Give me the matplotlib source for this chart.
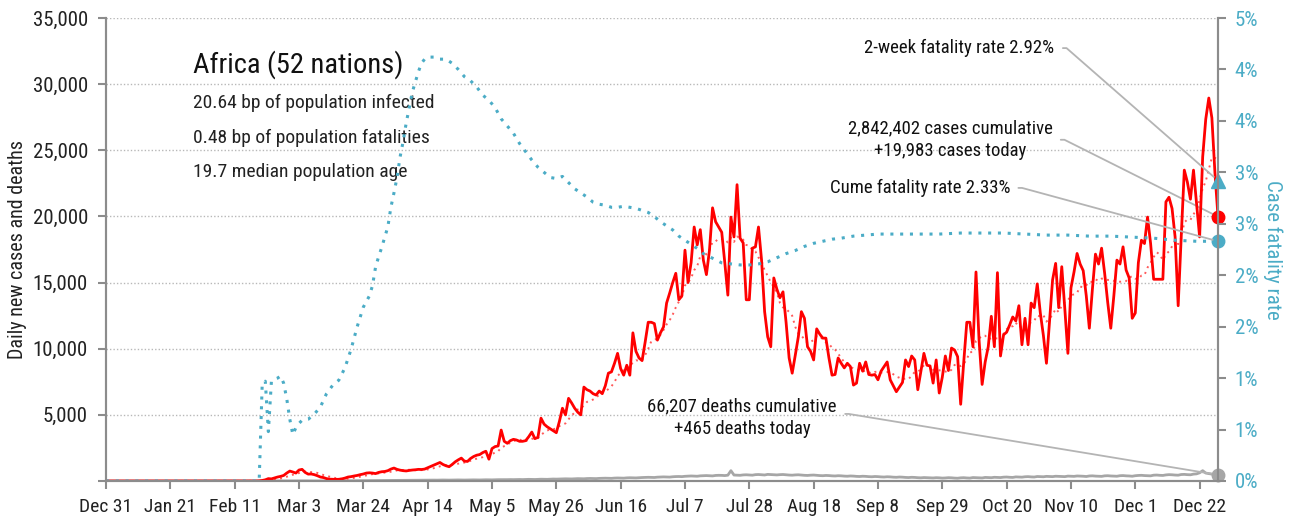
import matplotlib
matplotlib.use("Agg")
import matplotlib.pyplot as plt
import matplotlib.ticker as mticker
import numpy as np
import pandas as pd

plt.rcParams['font.family'] = ['Roboto Condensed', 'DejaVu Sans']
plt.rcParams['font.stretch'] = 'condensed'

# daily new cases, Dec 31 2019 .. Dec 28 2020
cases = (
    [0] * 45 +
    [1, 0, 0, 0, 0, 10, 40, 90, 180, 160, 230, 300, 350, 420, 600, 750, 680, 600, 830] +
    [880, 650, 520, 530, 480, 400, 300, 260, 180, 140, 130, 120, 130, 160] +
    [220, 300, 330, 380, 420, 480, 530, 600, 620, 600, 560, 650, 700, 720] +
    [780, 900, 980, 880, 820, 780, 760, 800, 830, 850, 880, 870, 900, 1000] +
    [1100, 1200, 1300, 1400, 1250, 1150, 1080, 1250, 1450, 1600, 1730, 1500, 1480, 1700] +
    [1850, 1950, 2000, 2150, 2250, 1650, 2450, 2600, 2650, 3850, 3000, 2850, 3050, 3150] +
    [3100, 3000, 3000, 3050, 3350, 3700, 3200, 3300, 4750, 4300, 4100, 3950, 3800, 3650] +
    [4500, 5500, 5000, 6250, 5900, 5500, 5200, 5000, 7100, 6900, 6800, 6600, 6500, 6800] +
    [6600, 7200, 8150, 8250, 8900, 9650, 8500, 8000, 8750, 8000, 11200, 9800, 9300, 9100] +
    [10500, 12000, 12000, 11900, 10650, 11200, 11650, 13450, 14200, 15000, 15700, 13700, 14000, 17450] +
    [15000, 16500, 19200, 17850, 19000, 16700, 15600, 17450, 20650, 19600, 19200, 18800, 16500, 14050] +
    [19950, 18450, 22400, 18350, 18000, 13700, 13700, 17600, 17700, 19200, 16700, 12800, 10900, 10150] +
    [15350, 14500, 13850, 14300, 12000, 9300, 8150, 9500, 10900, 12800, 12300, 10150, 9800, 9150] +
    [11500, 11100, 10800, 10800, 9300, 8000, 8050, 9300, 8900, 8550, 8900, 8650, 7250, 7400] +
    [8900, 8300, 9000, 8050, 8000, 8050, 7650, 8300, 8650, 9000, 7650, 7200, 6750, 7100] +
    [7450, 9150, 8650, 9450, 9150, 6900, 8300, 9650, 8750, 8700, 7400, 9150, 6650, 7850] +
    [9450, 8350, 10050, 9900, 9400, 5800, 9000, 12000, 12000, 10150, 15800, 10650, 7300, 9000] +
    [10150, 12450, 10150, 15750, 9450, 11050, 11250, 11800, 12400, 12100, 13250, 10300, 12300, 10300] +
    [13450, 13100, 14900, 12700, 11000, 8900, 12000, 15200, 16450, 13100, 16200, 13000, 9650, 14600] +
    [15800, 17200, 16400, 15900, 14000, 11550, 14500, 17150, 16400, 17600, 15700, 13500, 11550, 14000] +
    [16700, 16400, 17700, 15950, 15350, 12300, 12700, 16500, 18200, 17950, 19950, 17950, 15250, 15250] +
    [15250, 15250, 21100, 21450, 20600, 18450, 13250, 18500, 23500, 22600, 21300, 23500, 20950, 18450] +
    [24500, 27350, 28950, 27450, 23300, 19983]
)

# daily new deaths
deaths = (
    [0] * 51 +
    [2, 0, 1, 3, 2, 4, 5, 3, 6, 8, 7, 9, 10] +
    [8, 10, 6, 5, 4, 3, 3, 4, 5, 6, 8, 9, 10, 12] +
    [14, 16, 18, 20, 22, 25, 28, 30, 33, 36, 38, 40, 44, 48] +
    [50, 52, 55, 58, 60, 58, 56, 60, 62, 65, 60, 58, 62, 66] +
    [70, 68, 65, 72, 75, 70, 68, 74, 78, 80, 76, 72, 78, 82] +
    [85, 80, 78, 88, 92, 90, 86, 95, 100, 98, 94, 102, 108, 104] +
    [110, 115, 108, 120, 125, 118, 114, 128, 135, 130, 126, 140, 148, 142] +
    [150, 158, 165, 160, 155, 170, 178, 175, 168, 185, 192, 188, 180, 198] +
    [205, 212, 208, 200, 220, 228, 225, 215, 236, 245, 240, 232, 250, 262] +
    [270, 280, 275, 265, 290, 300, 310, 305, 295, 320, 335, 340, 330, 355] +
    [370, 380, 372, 360, 390, 400, 410, 398, 385, 420, 430, 425, 410, 440] +
    [780, 450, 440, 430, 460, 470, 455, 440, 480, 490, 470, 455, 500, 485] +
    [470, 460, 480, 490, 470, 450, 440, 460, 470, 450, 430, 420, 440, 450] +
    [430, 410, 400, 420, 410, 390, 380, 400, 390, 370, 360, 380, 370, 350] +
    [340, 360, 350, 330, 320, 340, 330, 310, 300, 320, 310, 290, 280, 300] +
    [290, 270, 260, 280, 270, 250, 240, 260, 250, 240, 230, 250, 240, 220] +
    [230, 250, 240, 220, 210, 240, 250, 230, 220, 260, 250, 240, 230, 270] +
    [260, 250, 280, 270, 260, 290, 300, 280, 270, 310, 300, 290, 320, 330] +
    [310, 300, 340, 330, 320, 350, 340, 330, 360, 350, 340, 330, 370, 360] +
    [350, 380, 370, 360, 340, 380, 390, 370, 360, 350, 390, 400, 380, 370] +
    [360, 400, 410, 390, 380, 360, 400, 420, 430, 410, 400, 390, 440, 450] +
    [430, 420, 460, 480, 470, 450, 440, 490, 500, 480, 470, 520, 540, 620] +
    [780, 600, 560, 520, 500, 465]
)
assert len(cases) == len(deaths) == 364

# cumulative case fatality rate (%), sampled by day number
cfr_day = [0, 50, 51, 52, 53, 54, 55, 56, 57, 58, 59, 60, 61, 62, 63, 64, 66, 68, 70, 72,
           74, 76, 78, 80, 82, 84, 86, 87, 88, 89, 90, 91, 92, 93, 94, 95, 96, 97, 98, 99,
           100, 101, 102, 103, 104, 105, 107, 109, 111, 113, 115, 117, 119, 121, 123, 125,
           127, 129, 131, 133, 135, 137, 139, 141, 143, 145, 147, 149, 151, 153, 155, 157,
           159, 161, 163, 165, 167, 169, 171, 173, 175, 177, 179, 181, 183, 185, 187, 189,
           191, 193, 195, 197, 199, 201, 204, 207, 210, 213, 216, 219, 222, 225, 228, 231,
           234, 237, 240, 244, 248, 252, 258, 265, 272, 279, 286, 293, 300, 307, 314, 321,
           328, 335, 342, 349, 356, 363]
cfr_pct = [0, 0, 0.95, 0.97, 0.48, 0.97, 0.99, 1.0, 1.02, 0.95, 0.80, 0.60, 0.45, 0.52, 0.56,
           0.59, 0.60, 0.65, 0.72, 0.85, 0.93, 0.98, 1.10, 1.28, 1.50, 1.69, 1.80, 1.90, 2.08,
           2.18, 2.27, 2.37, 2.47, 2.66, 2.80, 2.95, 3.15, 3.30, 3.48, 3.63, 3.78, 3.88, 3.98,
           4.06, 4.10, 4.12, 4.12, 4.10, 4.10, 4.06, 4.00, 3.93, 3.89, 3.83, 3.75, 3.70, 3.63,
           3.52, 3.45, 3.38, 3.28, 3.20, 3.12, 3.05, 3.00, 2.95, 2.94, 2.96, 2.90, 2.84, 2.80,
           2.76, 2.71, 2.69, 2.68, 2.66, 2.66, 2.67, 2.66, 2.65, 2.63, 2.61, 2.57, 2.52, 2.48,
           2.44, 2.38, 2.34, 2.30, 2.26, 2.21, 2.18, 2.15, 2.12, 2.11, 2.10, 2.10, 2.11, 2.13,
           2.17, 2.21, 2.24, 2.28, 2.31, 2.33, 2.35, 2.36, 2.38, 2.39, 2.40, 2.40, 2.40, 2.40,
           2.41, 2.41, 2.41, 2.40, 2.39, 2.39, 2.38, 2.38, 2.37, 2.36, 2.34, 2.33, 2.33]

two_week_cfr = 2.92
cume_cases = 2842402
cume_deaths = 66207

start = pd.Timestamp('2019-12-31')
dates = pd.date_range(start, periods=len(cases), freq='D')
cfr_dates = start + pd.to_timedelta(cfr_day, unit='D')
trend = pd.Series(cases).rolling(7, min_periods=1).mean()

RED = '#ff0000'
BLUE = '#4bacc6'
GRAY = '#a6a6a6'
AXC = '#8c8c8c'

fig = plt.figure(figsize=(12.92, 5.2), dpi=100)
ax = fig.add_axes([106 / 1292, 39 / 520, 1112 / 1292, 463 / 520])
ax2 = ax.twinx()

ax.plot(dates, deaths, color=GRAY, lw=2, zorder=3)
ax.plot(dates, trend, color='#ff5a5a', lw=1.4, ls=(0, (1, 2.2)), zorder=4)
ax.plot(dates, cases, color=RED, lw=2, zorder=5)
ax2.plot(cfr_dates, np.array(cfr_pct) / 100, color=BLUE, lw=2.2, ls=(0, (1, 2.2)))

ax.plot(dates[-1], cases[-1], 'o', color=RED, ms=9, clip_on=False, zorder=6)
ax.plot(dates[-1], deaths[-1], 'o', color=GRAY, ms=9, clip_on=False, zorder=6)
ax2.plot(dates[-1], cfr_pct[-1] / 100, 'o', color=BLUE, ms=9, clip_on=False)
ax2.plot(dates[-1], two_week_cfr / 100, '^', color=BLUE, ms=10, clip_on=False)

ax.set_xlim(dates[0], dates[-1])
ax.set_ylim(0, 35000)
ax2.set_ylim(0, 0.045)

ax.set_yticks(np.arange(0, 35001, 5000))
ax.yaxis.set_major_formatter(mticker.FuncFormatter(lambda v, p: '' if v == 0 else f'{v:,.0f}'))
ax2.set_yticks(np.arange(0, 0.0451, 0.005))
ax2.yaxis.set_major_formatter(mticker.FuncFormatter(lambda v, p: f'{int(np.floor(v * 100 + 0.5 + 1e-9))}%'))

xt = pd.date_range(start, dates[-1], freq='21D')
ax.set_xticks(xt)
ax.set_xticklabels([f'{d:%b} {d.day}' for d in xt])

ax.grid(axis='y', color='#b8b8b8', ls=(0, (1, 1.5)), lw=1)
ax.set_axisbelow(True)

for a in (ax, ax2):
    a.spines['top'].set_visible(False)
    for s in ('left', 'right', 'bottom'):
        a.spines[s].set_color(AXC)
        a.spines[s].set_linewidth(1.5)
    a.tick_params(color=AXC, width=1.5, length=6)

ax.tick_params(axis='y', labelsize=15, labelcolor='#222222', pad=7)
ax.tick_params(axis='x', labelsize=14, labelcolor='#222222', pad=6)
ax2.tick_params(axis='y', labelsize=15, labelcolor=BLUE, pad=6)

ax.set_ylabel('Daily new cases and deaths', fontsize=14.5, color='#222222')
ax.yaxis.set_label_coords(-0.071, 0.5)
ax2.set_ylabel('Case fatality rate', fontsize=15, color=BLUE, rotation=270)
ax2.yaxis.set_label_coords(1.058, 0.5)

tx = ax.transAxes
ax.text(0.078, 0.899, 'Africa (52 nations)', transform=tx, fontsize=20.5, va='center', color='#111111')
ax.text(0.078, 0.816, '20.64 bp of population infected', transform=tx, fontsize=14, va='center', color='#222222')
ax.text(0.078, 0.741, '0.48 bp of population fatalities', transform=tx, fontsize=14, va='center', color='#222222')
ax.text(0.078, 0.667, '19.7 median population age', transform=tx, fontsize=14, va='center', color='#222222')

conn = 'arc,angleA=0,armA=12,angleB=0,armB=0,rad=0'
line = dict(arrowstyle='-', color='#b4b4b4', lw=1.3, connectionstyle=conn, shrinkA=4, shrinkB=4)

ax2.annotate(f'2-week fatality rate {two_week_cfr:.2f}%', xy=(dates[-1], two_week_cfr / 100),
             xytext=(0.853, 0.935), textcoords='axes fraction', ha='right', va='center',
             fontsize=13.5, color='#111111', arrowprops=dict(line, relpos=(1, 0.5)), annotation_clip=False)
ax.annotate(f'{cume_cases:,} cases cumulative\n+{cases[-1]:,} cases today', xy=(dates[-1], cases[-1]),
            xytext=(0.759, 0.737), textcoords='axes fraction', ha='center', va='center',
            multialignment='center', linespacing=1.35,
            fontsize=13.5, color='#111111', arrowprops=dict(line, relpos=(1, 0.5)), annotation_clip=False)
ax2.annotate(f'Cume fatality rate {cfr_pct[-1]:.2f}%', xy=(dates[-1], cfr_pct[-1] / 100),
             xytext=(0.813, 0.633), textcoords='axes fraction', ha='right', va='center',
             fontsize=13.5, color='#111111', arrowprops=dict(line, relpos=(1, 0.5)), annotation_clip=False)
ax.annotate(f'{cume_deaths:,} deaths cumulative\n+{deaths[-1]:,} deaths today', xy=(dates[-1], deaths[-1]),
            xytext=(0.572, 0.136), textcoords='axes fraction', ha='center', va='center',
            multialignment='center', linespacing=1.35,
            fontsize=13.5, color='#111111', arrowprops=dict(line, relpos=(1, 0.6)), annotation_clip=False)

fig.savefig('out.png', dpi=100)
